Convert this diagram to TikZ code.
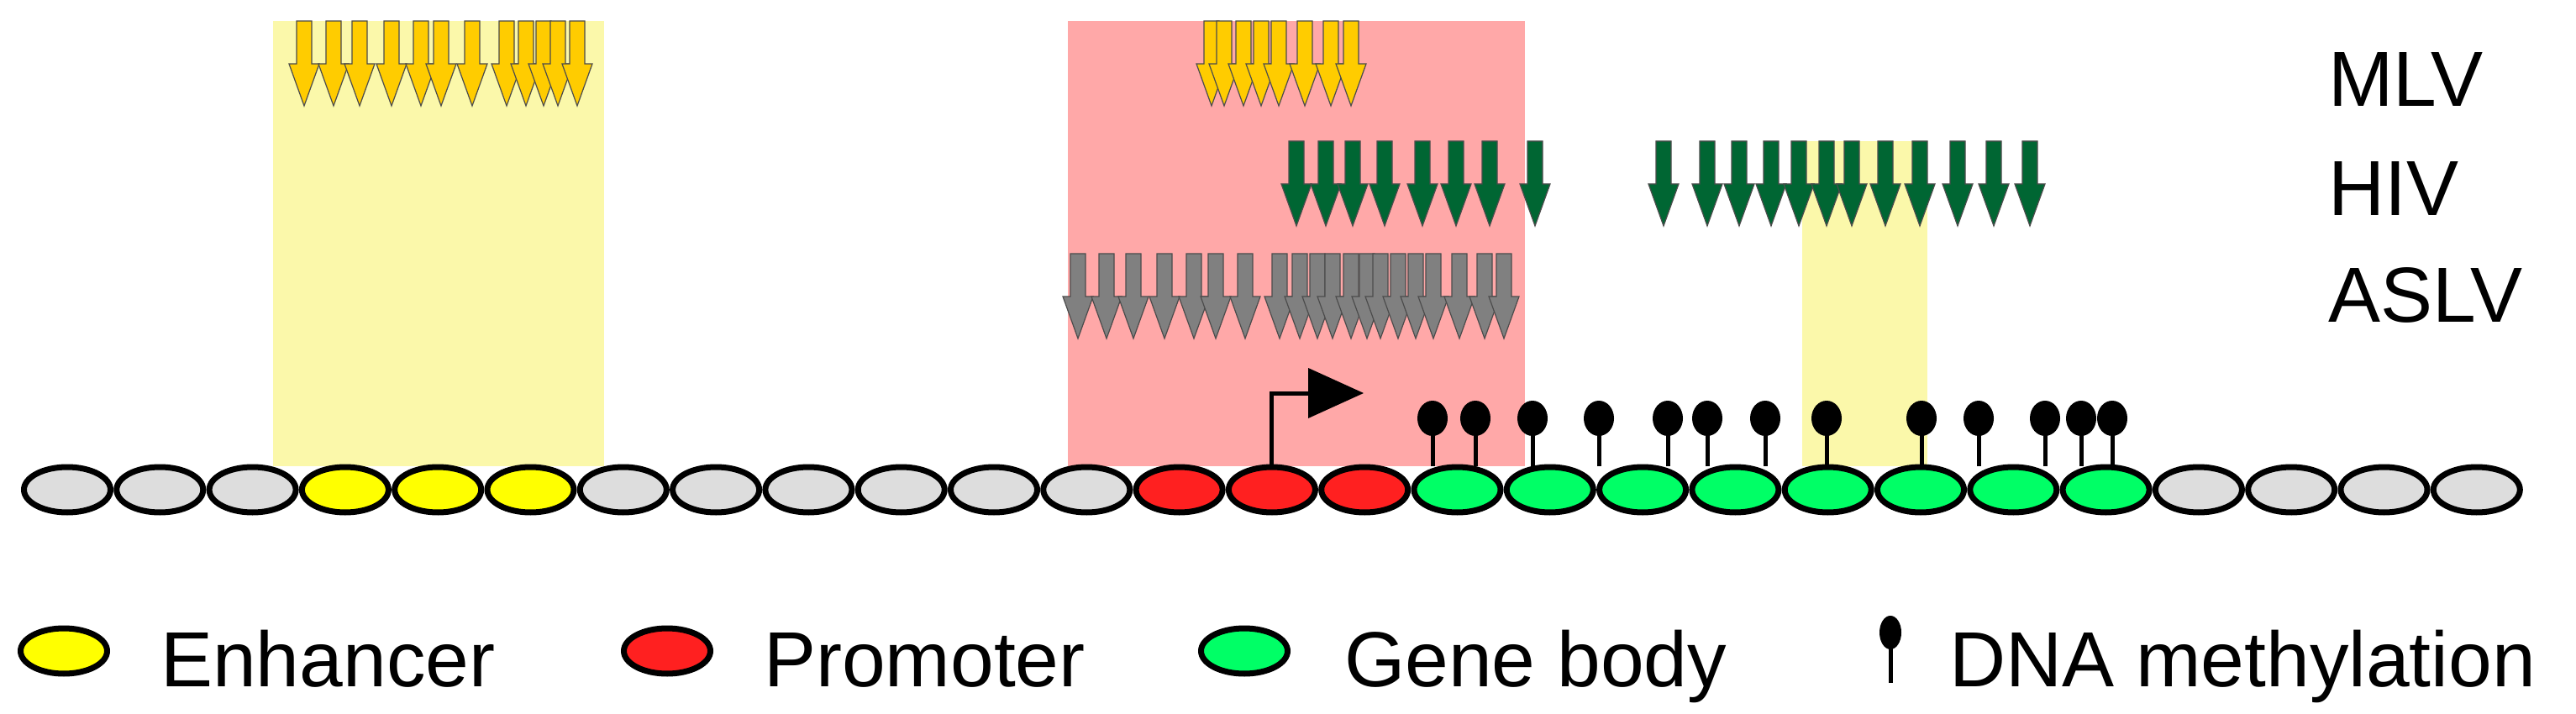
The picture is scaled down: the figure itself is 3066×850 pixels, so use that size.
\documentclass[tikz,border=0pt]{standalone}
\usepackage{fontspec}
\setmainfont{Liberation Sans}
\newfontfamily\lblfont[Scale=9.3]{Liberation Sans}
\usetikzlibrary{shapes.geometric}
\definecolor{bgyel}{HTML}{FBF8AA}
\definecolor{bgpink}{HTML}{FFA8A8}
\definecolor{mlvcol}{HTML}{FFCC00}
\definecolor{hivcol}{HTML}{006633}
\definecolor{aslvcol}{HTML}{808080}
\definecolor{nucgrey}{HTML}{DDDDDD}
\definecolor{enh}{HTML}{FFFF00}
\definecolor{prom}{HTML}{FF2020}
\definecolor{gene}{HTML}{00FF66}
\tikzset{
  mynuc/.style={ellipse, draw=black, line width=7pt, inner sep=0pt, minimum width=103pt, minimum height=54pt},
  mylbl/.style={anchor=base west, inner sep=0pt},
  mysite/.style={draw=black!70, line width=1.2pt},
  mystem/.style={line width=5pt},
}
\newcommand{\insarrow}[3]{%
  \filldraw[mysite, fill=#3] (#1-9,#2) -- (#1+9,#2) -- (#1+9,#2+51) -- (#1+18,#2+51)
    -- (#1,#2+101) -- (#1-18,#2+51) -- (#1-9,#2+51) -- cycle;}
\begin{document}
\begin{tikzpicture}[x=1pt,y=-1pt]
\useasboundingbox (0,0) rectangle (3066,850);
\fill[bgyel] (325,25) rectangle (719,555);
\fill[bgpink] (1271,25) rectangle (1815,555);
\fill[bgyel] (2145,168) rectangle (2294,555);
\foreach \x in {362,397,428,466,501,525,562,603,626,647,664,687,1442,1457,1480,1501,1522,1553,1584,1608}
  {\insarrow{\x}{25}{mlvcol}}
\foreach \x in {1543,1578,1610,1648,1693,1733,1773,1827,1980,2032,2070,2108,2141,2174,2204,2244,2285,2330,2373,2416}
  {\insarrow{\x}{168}{hivcol}}
\foreach \x in {1283,1317,1349,1386,1421,1447,1482,1523,1547,1568,1586,1608,1627,1643,1664,1685,1706,1737,1767,1790}
  {\insarrow{\x}{302}{aslvcol}}
\node[mylbl] (tmlv) at (2771,127) {\lblfont MLV};
\node[mylbl] (thiv) at (2771,257) {\lblfont HIV};
\node[mylbl] (taslv) at (2771,383) {\lblfont ASLV};
\foreach \x [count=\i] in {1705,1756,1824,1903,1985,2032,2101,2174,2287,2355,2434,2477,2514} {
  \coordinate (m\i) at (\x,555);
  \draw[mystem] (m\i) -- (\x,498);
  \fill[black] (\x,498) ellipse [x radius=18, y radius=21];
}
\coordinate (tss) at (1513,555);
\coordinate (tssk) at (1513,468);
\coordinate (tsse) at (1560,468);
\draw[line width=5pt] (tss) -- (tssk) -- (tsse);
\fill (1557,438) -- (1623,468) -- (1557,498) -- cycle;
\foreach \i/\col in {0/nucgrey,1/nucgrey,2/nucgrey,3/enh,4/enh,5/enh,6/nucgrey,7/nucgrey,8/nucgrey,9/nucgrey,10/nucgrey,11/nucgrey,12/prom,13/prom,14/prom,15/gene,16/gene,17/gene,18/gene,19/gene,20/gene,21/gene,22/gene,23/nucgrey,24/nucgrey,25/nucgrey,26/nucgrey}
  {\node[mynuc, fill=\col] (n\i) at (80+110.3*\i,583) {};}
\node[mynuc, fill=enh] (le) at (76,775) {};
\node[mylbl] (lte) at (191,817) {\lblfont Enhancer};
\node[mynuc, fill=prom] (lp) at (794,775) {};
\node[mylbl] (ltp) at (909,817) {\lblfont Promoter};
\node[mynuc, fill=gene] (lg) at (1481,775) {};
\node[mylbl] (ltg) at (1600,817) {\lblfont Gene body};
\coordinate (lm) at (2250,813);
\draw[mystem] (lm) -- (2250,753);
\fill[black] (2250,753) ellipse [x radius=13, y radius=20];
\node[mylbl] (ltm) at (2320,817) {\lblfont DNA methylation};
\end{tikzpicture}
\end{document}
